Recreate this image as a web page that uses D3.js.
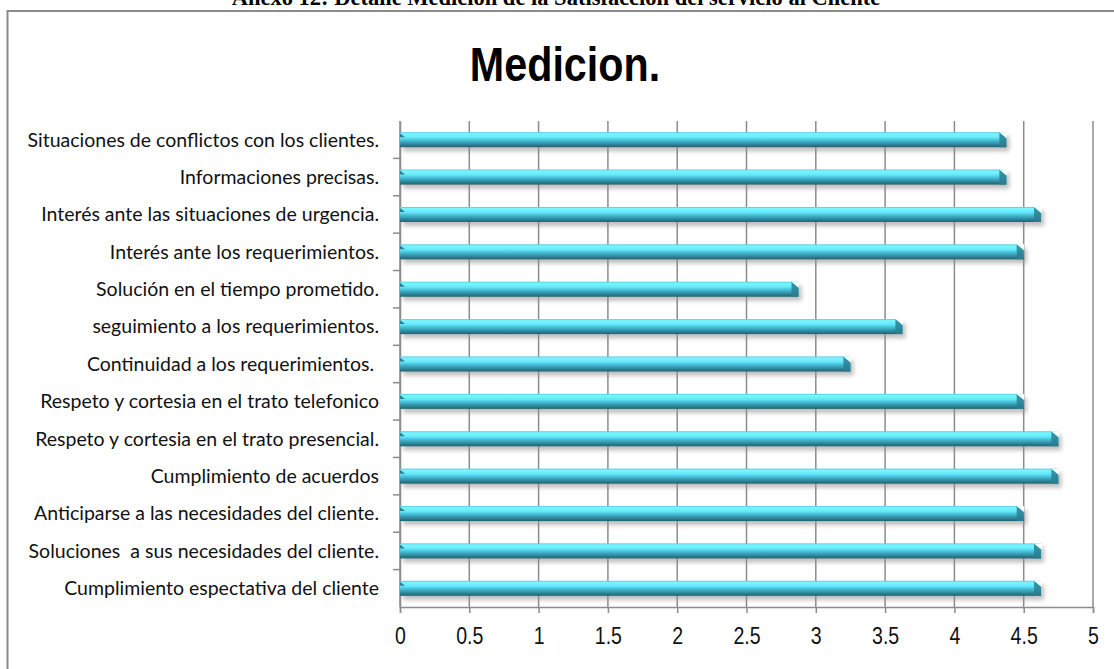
<!DOCTYPE html>
<html>
<head>
<meta charset="utf-8">
<script src="https://cdn.jsdelivr.net/npm/d3@7"></script>
<style>
  body { margin: 0; background: #fff; }
  svg { display: block; }
  .cat { font-family: Lato, "Open Sans", sans-serif; font-size: 19.5px; fill: #111; }
  .tick-lbl { font-family: "Liberation Sans", Arial, sans-serif; font-size: 23px; fill: #111; }
</style>
</head>
<body>
<div class="chart"></div>
<script>
// categories from top to bottom, as in the picture
const categories = [
  "Situaciones de conflictos con los clientes.",
  "Informaciones precisas.",
  "Interés ante las situaciones de urgencia.",
  "Interés ante los requerimientos.",
  "Solución en el tiempo prometido.",
  "seguimiento a los requerimientos.",
  "Continuidad a los requerimientos. ",
  "Respeto y cortesia en el trato telefonico",
  "Respeto y cortesia en el trato presencial.",
  "Cumplimiento de acuerdos",
  "Anticiparse a las necesidades del cliente.",
  "Soluciones  a sus necesidades del cliente.",
  "Cumplimiento espectativa del cliente"
]
const values = [4.375, 4.375, 4.625, 4.5, 2.875, 3.625, 3.25, 4.5, 4.75, 4.75, 4.5, 4.625, 4.625]
const xTicks = [0, 0.5, 1, 1.5, 2, 2.5, 3, 3.5, 4, 4.5, 5]

const width = 1114
const height = 669
const margin = { top: 121, right: 21, bottom: 62, left: 400 }

let svg = d3.select(".chart")
  .append("svg")
  .attr("width", width)
  .attr("height", height)

let defs = svg.append("defs")

let grad = defs.append("linearGradient")
  .attr("id", "barGrad")
  .attr("x1", 0).attr("y1", 0).attr("x2", 0).attr("y2", 1)
const stops = [
  [0, "#4cc6dd"], [0.1, "#7af6ff"], [0.35, "#66e8fb"],
  [0.55, "#45bdd5"], [0.8, "#2e8a9e"], [1, "#22606e"]
]
stops.forEach(s => grad.append("stop").attr("offset", s[0]).attr("stop-color", s[1]))

defs.append("filter")
  .attr("id", "blur")
  .attr("x", "-5%").attr("y", "-80%").attr("width", "110%").attr("height", "260%")
  .append("feGaussianBlur")
  .attr("stdDeviation", 2.2)

// header of the page (cut at the top)
svg.append("text")
  .attr("x", 556)
  .attr("y", 5)
  .attr("text-anchor", "middle")
  .style("font-family", "'Liberation Serif', 'Times New Roman', serif")
  .style("font-weight", "bold")
  .style("font-size", "22.5px")
  .text("Anexo 12: Detalle Medicion de la Satisfacción del servicio al Cliente")

// frame
svg.append("path")
  .attr("d", "M7.5,669 L7.5,11 L1114,11")
  .style("fill", "none")
  .style("stroke", "#8c8c8c")
  .style("stroke-width", 2)

// title, narrowed like the condensed face of the original
svg.append("text")
  .attr("transform", "translate(565,81) scale(0.86,1)")
  .attr("text-anchor", "middle")
  .style("font-family", "'Liberation Sans', Arial, sans-serif")
  .style("font-weight", "bold")
  .style("font-size", "48px")
  .text("Medicion.")

let x = d3.scaleLinear()
  .domain([0, 5])
  .range([margin.left, width - margin.right])

let y = d3.scaleBand()
  .domain(categories)
  .range([margin.top, height - margin.bottom])

const barH = 15

// gridlines
svg.append("g")
  .selectAll("line")
  .data(xTicks)
  .enter()
  .append("line")
  .attr("x1", d => x(d)).attr("x2", d => x(d))
  .attr("y1", margin.top).attr("y2", height - margin.bottom)
  .style("stroke", "#8c8c8c")
  .style("stroke-width", 1.5)

// y axis
let yAxis = svg.append("g")
  .attr("transform", "translate(" + margin.left + ",0)")
  .call(d3.axisLeft(y).tickSize(0).tickPadding(21))
yAxis.select(".domain").style("stroke", "#8c8c8c").style("stroke-width", 1.5)
yAxis.selectAll("text").attr("class", "cat").attr("dy", "0.35em").attr("y", 0)
  .style("white-space", "pre")
yAxis.attr("font-size", null).attr("font-family", null)

// small ticks between categories
svg.append("g")
  .selectAll("line")
  .data(categories.slice(1))
  .enter()
  .append("line")
  .attr("x1", margin.left - 7).attr("x2", margin.left)
  .attr("y1", d => y(d)).attr("y2", d => y(d))
  .style("stroke", "#8c8c8c")
  .style("stroke-width", 1.5)

// x axis
let xAxis = svg.append("g")
  .attr("transform", "translate(0," + (height - margin.bottom) + ")")
  .call(d3.axisBottom(x).tickValues(xTicks).tickSize(6).tickPadding(15).tickFormat(d3.format("")))
xAxis.select(".domain").style("stroke", "#8c8c8c").style("stroke-width", 1.5)
xAxis.selectAll(".tick line").style("stroke", "#8c8c8c").style("stroke-width", 1.5)
xAxis.selectAll(".tick text").attr("class", "tick-lbl").each(function () {
  let t = d3.select(this)
  // condensed digits
  t.attr("transform", "translate(0," + t.attr("y") + ") scale(0.85,1)").attr("y", 0)
})
xAxis.attr("font-size", null).attr("font-family", null)

// bars
let bars = svg.append("g")
  .selectAll("g")
  .data(categories.map((c, i) => ({ cat: c, value: values[i] })))
  .enter()
  .append("g")
  .attr("transform", d => "translate(0," + (y(d.cat) + y.bandwidth() / 2 - barH / 2) + ")")

bars.append("rect")
  .attr("x", x(0) + 3)
  .attr("y", 4)
  .attr("width", d => x(d.value) - x(0))
  .attr("height", barH)
  .style("fill", "#8a8a8a")
  .style("opacity", 0.55)
  .attr("filter", "url(#blur)")

bars.append("rect")
  .attr("x", x(0))
  .attr("y", 0)
  .attr("width", d => x(d.value) - x(0))
  .attr("height", barH)
  .style("fill", "url(#barGrad)")

// bevel at the end of each bar
bars.append("path")
  .attr("d", d => {
    let xe = x(d.value)
    return "M" + (xe - 7) + ",0 L" + xe + ",6 L" + xe + "," + barH + " L" + (xe - 7) + "," + barH + " Z"
  })
  .style("fill", "#2a7f92")
  .style("opacity", 0.85)

bars.append("path")
  .attr("d", d => {
    let xe = x(d.value)
    return "M" + (xe - 7) + ",0 L" + (xe + 0.5) + ",0 L" + (xe + 0.5) + ",6 Z"
  })
  .style("fill", "#fff")

// bevel at the start
bars.append("path")
  .attr("d", "M" + x(0) + ",1 L" + (x(0) + 5) + ",5 L" + x(0) + ",5 Z")
  .style("fill", "#2a7f92")
</script>
</body>
</html>
